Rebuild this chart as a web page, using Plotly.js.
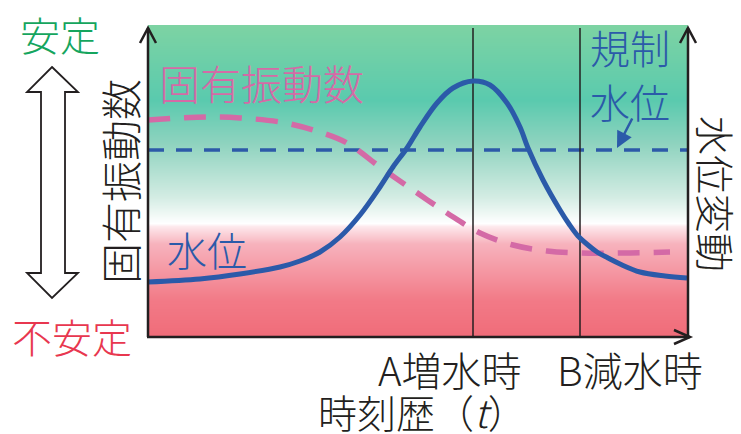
<!DOCTYPE html>
<html><head><meta charset="utf-8">
<script src="https://cdn.plot.ly/plotly-3.0.1.min.js"></script>
<style>html,body{margin:0;padding:0;background:#fff}#c{width:741px;height:434px}</style>
</head><body><div id="c"></div>
<script>
// Water level (blue solid) – time vs level
const waterTime  = [0,52,92,132,152,172,192,212,232,245,259,272,289,305,325,342,359,372,380,395,412,421,430,440,449,460,472,492,517,539];
const waterLevel = [55,58,63,70,76,85,100,122,150,170,189,210,234,249,256,252,234,210,189,157,127,113,101,92,85,79,73,65,61,59];
// Natural frequency (pink dashed)
const freqTime  = [0,32,59,92,132,165,199,232,265,299,332,365,399,432,475,522];
const naturalFreq = [217,219,220,219,215,207,194,170,147,124,104,92,86,84,84,85];
// Regulated water level (blue dashed)
const regulatedLevel = 187;
// Event times A (rising) and B (falling)
const eventTimes = [325, 432];
const eventLabels = ['A増水時','B減水時'];
const xMax = 540, yMax = 312;

const W=741,H=434,L=148,R=53,T=25,B=97;
const pw=W-L-R, ph=H-T-B;
const px=(x)=>(x-L)/pw, py=(y)=>(H-B-y)/ph;
const font='"Noto Sans CJK JP","Noto Sans",sans-serif';

const gy=[]; for(let v=0; v<=yMax; v+=4) gy.push(v);
const gz=gy.map(v=>[v,v]);

const traces=[
 {type:'heatmap', x:[0,xMax], y:gy, z:gz, zmin:0, zmax:yMax, zsmooth:'best', showscale:false, hoverinfo:'skip',
  colorscale:[[0,'#f06c79'],[0.12,'#f27a87'],[0.3,'#f7b3bd'],[0.355,'#fde8ec'],[0.365,'#ffffff'],[0.45,'#d3ece3'],[0.62,'#8fd3bf'],[0.76,'#5acaae'],[1,'#7dd3a3']]},
 {type:'scatter', mode:'lines', x:[0,xMax], y:[regulatedLevel,regulatedLevel], line:{color:'#2d5aa8',width:3.5,dash:'16px,12px'}, hoverinfo:'skip'},
 {type:'scatter', mode:'lines', x:freqTime, y:naturalFreq, line:{color:'#d46aa6',width:5.5,dash:'22px,14px',shape:'spline',smoothing:1}, hoverinfo:'skip'},
 {type:'scatter', mode:'lines', x:[eventTimes[0],eventTimes[0]], y:[0,yMax-3], line:{color:'#231f20',width:1.5}, hoverinfo:'skip'},
 {type:'scatter', mode:'lines', x:[eventTimes[1],eventTimes[1]], y:[0,yMax-3], line:{color:'#231f20',width:1.5}, hoverinfo:'skip'},
 {type:'scatter', mode:'lines', x:waterTime, y:waterLevel, line:{color:'#2b5aa9',width:5,shape:'spline',smoothing:1}, hoverinfo:'skip'}
];

const pathOf=(pts,close)=>pts.map((p,i)=>(i?'L':'M')+px(p[0])+','+py(p[1])).join(' ')+(close?' Z':'');
const ax='#231f20';
const shapes=[
 {type:'path', xref:'paper', yref:'paper', path:pathOf([[148,337],[148,28]]), line:{color:ax,width:2.5}},
 {type:'path', xref:'paper', yref:'paper', path:pathOf([[140,43],[148,28],[156,43]]), line:{color:ax,width:2.5}},
 {type:'path', xref:'paper', yref:'paper', path:pathOf([[688,337],[688,28]]), line:{color:ax,width:2.5}},
 {type:'path', xref:'paper', yref:'paper', path:pathOf([[680,43],[688,28],[696,43]]), line:{color:ax,width:2.5}},
 {type:'path', xref:'paper', yref:'paper', path:pathOf([[147,337],[690,337]]), line:{color:ax,width:2.5}},
 {type:'path', xref:'paper', yref:'paper', path:pathOf([[674,330],[690,337],[674,344]]), line:{color:ax,width:2.5}},
 {type:'path', xref:'paper', yref:'paper', fillcolor:'#ffffff',
  path:pathOf([[52,67],[78,92],[65,92],[65,273],[78,273],[52,298],[27,273],[41,273],[41,92],[27,92]],true), line:{color:ax,width:1.8}}
];

const ann=(t,x,y,size,color,extra)=>Object.assign({text:t, xref:'paper', yref:'paper', x:px(x), y:py(y), xanchor:'center', yanchor:'middle', showarrow:false, font:{family:font,size:size,color:color,weight:300}},extra||{});
const annotations=[
 ann('安定',60,34,40,'#15a55e'),
 ann('不安定',72,336,40,'#e8374f'),
 ann('固有振動数',119,182,41,'#231f20',{textangle:-90}),
 ann('水位変動',717,194,39,'#231f20',{textangle:90}),
 ann('固有振動数',261,82,41,'#d46aa6'),
 ann('水位',207,249,40,'#2b5aa9'),
 ann('規制',630,47,40,'#2b5aa9'),
 ann('水位',630,101,40,'#2b5aa9'),
 ann(eventLabels[0],450,369,40,'#231f20'),
 ann(eventLabels[1],630,369,40,'#231f20'),
 ann('時刻歴（<i>t</i>）',422,411,39,'#231f20'),
 {text:'', xref:'paper', yref:'paper', x:px(617), y:py(148), axref:'paper', ayref:'paper', ax:px(633), ay:py(117), showarrow:true, arrowhead:2, arrowsize:1.3, arrowwidth:2.5, arrowcolor:'#2b5aa9', standoff:0}
];

const layout={width:W,height:H,margin:{l:L,r:R,t:T,b:B,pad:0},paper_bgcolor:'#ffffff',plot_bgcolor:'#ffffff',showlegend:false,
 xaxis:{range:[0,xMax],showgrid:false,zeroline:false,showticklabels:false,ticks:'',showline:false,fixedrange:true},
 yaxis:{range:[0,yMax],showgrid:false,zeroline:false,showticklabels:false,ticks:'',showline:false,fixedrange:true},
 shapes:shapes, annotations:annotations};
Plotly.newPlot('c',traces,layout,{displayModeBar:false,staticPlot:true});
</script></body></html>
